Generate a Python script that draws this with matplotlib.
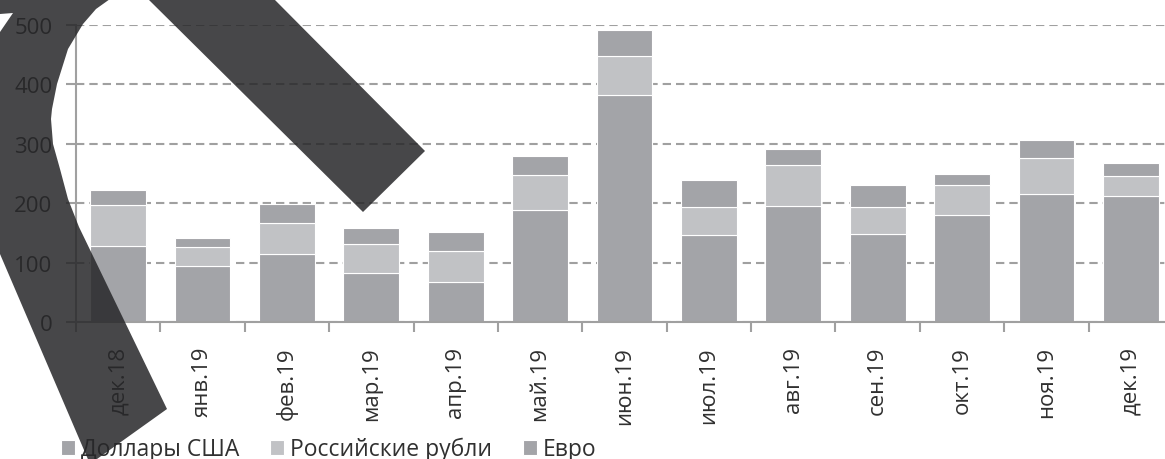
import matplotlib.pyplot as plt
import numpy as np
from matplotlib.patches import Polygon

plt.rcParams['font.family'] = ['Open Sans', 'DejaVu Sans']

months = ['дек.18', 'янв.19', 'фев.19', 'мар.19', 'апр.19', 'май.19', 'июн.19',
          'июл.19', 'авг.19', 'сен.19', 'окт.19', 'ноя.19', 'дек.19']
usd = [128, 94, 115, 83, 68, 189, 382, 146, 195, 148, 181, 216, 213]
rub = [69, 33, 52, 48, 51, 59, 66, 48, 70, 45, 50, 60, 33]
eur = [26, 15, 32, 28, 33, 32, 43, 45, 26, 37, 19, 31, 22]
series_names = ['Доллары США', 'Российские рубли', 'Евро']

dark = '#a3a4a8'
light = '#c1c2c5'
grey = '#a0a0a0'
text_c = '#303030'

W, H = 1165, 460
fig = plt.figure(figsize=(W / 100, H / 100), dpi=100)
ax = fig.add_axes([76 / W, 136.7 / H, 1097 / W, 297.6 / H])

x = np.arange(len(months))
usd_a = np.array(usd)
rub_a = np.array(rub)
eur_a = np.array(eur)
b1 = ax.bar(x, usd_a, 0.66, color=dark, edgecolor='white', linewidth=0.8)
b2 = ax.bar(x, rub_a, 0.66, bottom=usd_a, color=light, edgecolor='white', linewidth=0.8)
b3 = ax.bar(x, eur_a, 0.66, bottom=usd_a + rub_a, color=dark, edgecolor='white', linewidth=0.8)

ax.set_xlim(-0.5, len(months) - 0.5)
ax.set_ylim(0, 500)
ax.set_yticks([0, 100, 200, 300, 400, 500])
ax.set_axisbelow(True)
ax.yaxis.grid(True, color=grey, linewidth=1.5, linestyle=(0, (4, 2.4)))

# category labels at centres, tick marks between categories
ax.set_xticks(x)
ax.set_xticklabels(months, rotation=90, fontsize=16, color=text_c)
ax.set_xticks(np.arange(-0.5, len(months)), minor=True)
ax.tick_params(axis='x', which='major', length=0, pad=17)
ax.tick_params(axis='x', which='minor', length=7, width=1.5, color=grey)
ax.tick_params(axis='y', length=7, width=1.5, color=grey, pad=10,
               labelsize=16, labelcolor=text_c)

for side in ['top', 'right']:
    ax.spines[side].set_visible(False)
for side in ['left', 'bottom']:
    ax.spines[side].set_color(grey)
    ax.spines[side].set_linewidth(1.5)

fig.legend([b1, b2, b3], series_names, loc='center left',
           bbox_to_anchor=(61 / W, 1 - 450 / H), bbox_transform=fig.transFigure,
           ncol=3, frameon=False, fontsize=16.5, labelcolor=text_c,
           handlelength=0.62, handleheight=0.62, handletextpad=0.25,
           columnspacing=1.35, borderpad=0, borderaxespad=0)


def px(pts):
    return [(px_x / W, 1 - px_y / H) for px_x, px_y in pts]


# dark stroke drawn across the chart
arc = [(-5, -5), (114, -5), (110, 0), (96, 10), (83, 25), (68, 50), (57, 85),
       (52, 110), (51, 120), (53, 145), (60, 170), (68, 200), (79, 228),
       (167, 410), (90, 465), (0, 255), (-5, 255), (-5, 33), (0, 33),
       (13, 14), (0, 15), (-5, 15)]
band = [(128, -20), (148, 0), (363, 213), (425, 152), (274, 0), (254, -20)]
for shape in (arc, band):
    fig.add_artist(Polygon(px(shape), closed=True, transform=fig.transFigure,
                           facecolor='#272729', edgecolor='none', alpha=0.85,
                           zorder=10))

fig.savefig('out.png', dpi=100)
